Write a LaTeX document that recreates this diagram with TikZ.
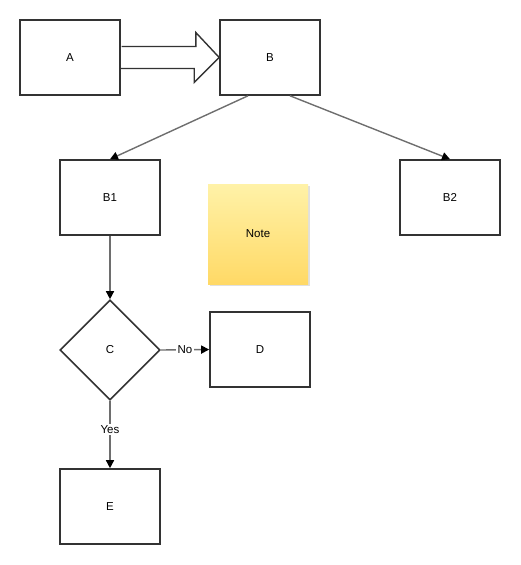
\documentclass[tikz,border=0pt]{standalone}
\usepackage{fontspec}
\setmainfont{Liberation Sans}
\usetikzlibrary{arrows.meta,shapes.geometric}
\definecolor{boxline}{HTML}{333333}
\definecolor{edgeline}{HTML}{6E6E6E}
\definecolor{notetop}{HTML}{FFF2A8}
\definecolor{notebot}{HTML}{FFD966}
\tikzset{
  every node/.style={font=\fontsize{11.5}{13}\selectfont},
  box/.style={draw=boxline, line width=1.6pt, fill=white, minimum width=100pt, minimum height=75pt, inner sep=0pt},
  decision/.style={diamond, draw=boxline, line width=1.6pt, fill=white, minimum width=100pt, minimum height=100pt, inner sep=0pt, aspect=1},
  edge/.style={draw=edgeline, line width=1.4pt, -{Triangle[length=8pt,width=8pt,fill=black,color=black]}},
  lbl/.style={fill=white, inner sep=1.5pt},
  bigarrow/.style={draw=boxline, line width=1.4pt, line join=miter}
}
\begin{document}
\begin{tikzpicture}[x=1pt,y=-1pt]
\useasboundingbox (0,0) rectangle (520,565);
% boxes
\node[box] (A) at (70,57.5) {A};
\node[box] (B) at (270,57.5) {B};
\node[box] (B1) at (110,197.5) {B1};
\node[box] (B2) at (450,197.5) {B2};
\node[decision] (C) at (110,350) {C};
\node[box] (D) at (260,349.5) {D};
\node[box] (E) at (110,506.5) {E};
% note
\fill[black!12] (210,186) rectangle (310,286);
\shade[top color=notetop, bottom color=notebot] (208,184) rectangle (308,284);
\node (N) at (258,234) {Note};
% big arrow A -> B
\draw[bigarrow] ([xshift=0.8pt]A.east) ++(0,-11) -- ++(74.2,0) -- ++(0,-14) -- (B.west) -- ++(-25,25) -- ++(0,-14) -- ++(-74.2,0);
% edges
\draw[edge] ([xshift=-22pt]B.south) -- (B1.north);
\draw[edge] ([xshift=20pt]B.south) -- (B2.north);
\draw[edge] (B1.south) -- (C.north);
\draw[edge] (C.east) -- node[lbl] {No} (D.west);
\draw[edge] (C.south) -- node[lbl, pos=0.42] {Yes} (E.north);
\end{tikzpicture}
\end{document}
